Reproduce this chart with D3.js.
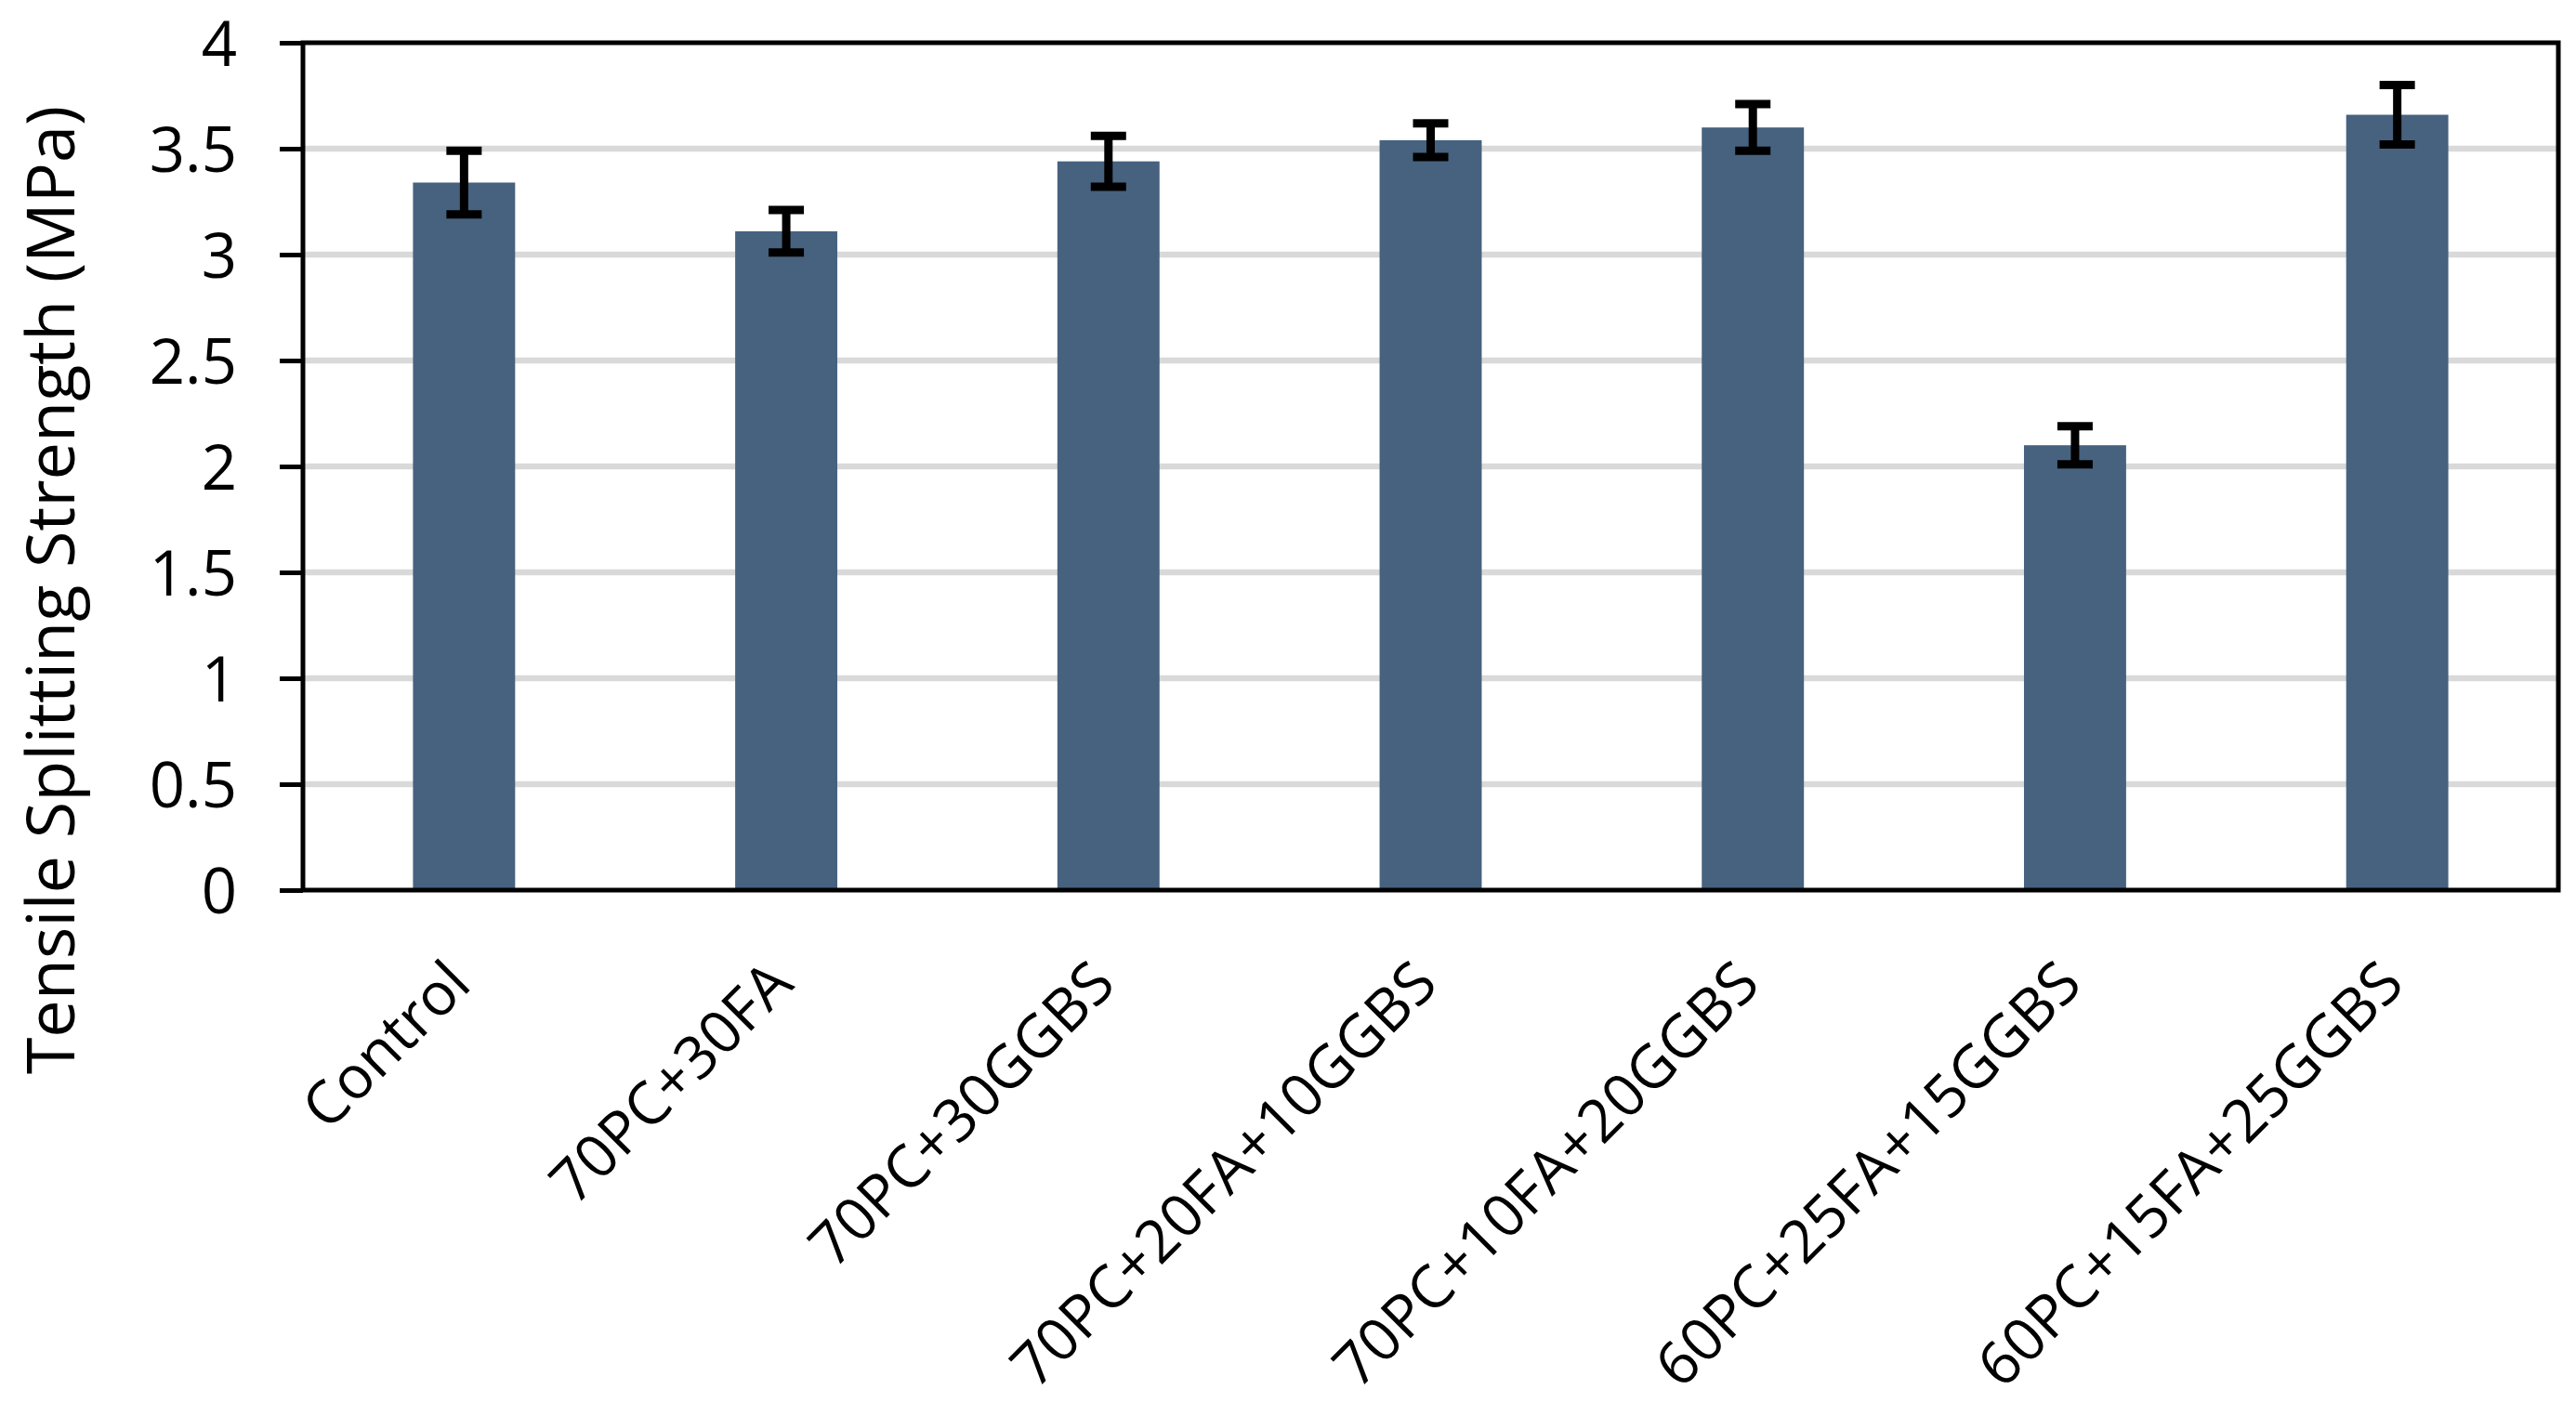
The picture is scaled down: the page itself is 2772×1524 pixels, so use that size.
<!DOCTYPE html>
<html>
<head>
<meta charset="utf-8">
<script src="https://cdn.jsdelivr.net/npm/d3@7"></script>
<style>
  body { margin: 0; background: #fff; }
  text { font-family: "Open Sans", sans-serif; fill: #000; }
</style>
</head>
<body>
<div id="chart"></div>
<script>
const WIDTH = 2772
const HEIGHT = 1524
const LEFT = 326, RIGHT = 2753, TOP = 46, BOTTOM = 958

const categories = ["Control", "70PC+30FA", "70PC+30GGBS", "70PC+20FA+10GGBS",
    "70PC+10FA+20GGBS", "60PC+25FA+15GGBS", "60PC+15FA+25GGBS"]
const strength = [3.34, 3.11, 3.44, 3.54, 3.60, 2.10, 3.66]
const error = [0.15, 0.10, 0.12, 0.08, 0.11, 0.09, 0.14]
const y_ticks = [0, 0.5, 1, 1.5, 2, 2.5, 3, 3.5, 4]
const y_title = "Tensile Splitting Strength (MPa)"

const BAR_COLOR = "#46627f"
const GRID_COLOR = "#d9d9d9"

const data = categories.map((c, i) => ({ name: c, value: strength[i], err: error[i] }))

const svg = d3.select("#chart")
    .append("svg")
    .attr("width", WIDTH)
    .attr("height", HEIGHT)

svg.append("rect")
    .attr("width", WIDTH)
    .attr("height", HEIGHT)
    .attr("fill", "#fff")

const x = d3.scaleBand()
    .domain(categories)
    .range([LEFT, RIGHT])
    .paddingInner(0.683)
    .paddingOuter(0.3415)

const y = d3.scaleLinear()
    .domain([0, 4])
    .range([BOTTOM, TOP])

// gridlines
svg.append("g")
    .selectAll("line")
    .data(y_ticks.filter(t => t > 0 && t < 4))
    .join("line")
    .attr("x1", LEFT)
    .attr("x2", RIGHT)
    .attr("y1", d => y(d))
    .attr("y2", d => y(d))
    .attr("stroke", GRID_COLOR)
    .attr("stroke-width", 6.5)

// bars
svg.append("g")
    .selectAll("rect")
    .data(data)
    .join("rect")
    .attr("x", d => x(d.name))
    .attr("width", x.bandwidth())
    .attr("y", d => y(d.value))
    .attr("height", d => y(0) - y(d.value))
    .attr("fill", BAR_COLOR)

// error bars
const CAP = 19
const $err = svg.append("g")
    .attr("stroke", "#000")
    .attr("stroke-width", 9)
    .selectAll("g")
    .data(data)
    .join("g")
    .attr("transform", d => `translate(${x(d.name) + x.bandwidth() / 2},0)`)
$err.append("line")
    .attr("y1", d => y(d.value + d.err))
    .attr("y2", d => y(d.value - d.err))
$err.append("line")
    .attr("x1", -CAP).attr("x2", CAP)
    .attr("y1", d => y(d.value + d.err))
    .attr("y2", d => y(d.value + d.err))
$err.append("line")
    .attr("x1", -CAP).attr("x2", CAP)
    .attr("y1", d => y(d.value - d.err))
    .attr("y2", d => y(d.value - d.err))

// plot frame
svg.append("rect")
    .attr("x", LEFT)
    .attr("y", TOP)
    .attr("width", RIGHT - LEFT)
    .attr("height", BOTTOM - TOP)
    .attr("fill", "none")
    .attr("stroke", "#000")
    .attr("stroke-width", 5)

// y axis
const y_axis = svg.append("g")
    .attr("transform", `translate(${LEFT},0)`)
    .call(d3.axisLeft(y).tickValues(y_ticks).tickFormat(d3.format("")).tickSize(25).tickPadding(46))
y_axis.select(".domain").remove()
y_axis.selectAll(".tick line")
    .attr("stroke", "#000")
    .attr("stroke-width", 5)
y_axis.selectAll(".tick text")
    .attr("font-family", "'Open Sans', sans-serif")
    .attr("font-size", 67)
    .attr("fill", "#000")
    .attr("dy", "0.36em")

// x labels
svg.append("g")
    .selectAll("text")
    .data(categories)
    .join("text")
    .attr("transform", d => `translate(${x(d) + x.bandwidth() / 2 + 10},${BOTTOM + 104}) rotate(-45)`)
    .attr("text-anchor", "end")
    .attr("font-size", 64)
    .text(d => d)

// y title
svg.append("text")
    .attr("transform", `translate(80,635) rotate(-90)`)
    .attr("text-anchor", "middle")
    .attr("font-size", 72)
    .text(y_title)
</script>
</body>
</html>
